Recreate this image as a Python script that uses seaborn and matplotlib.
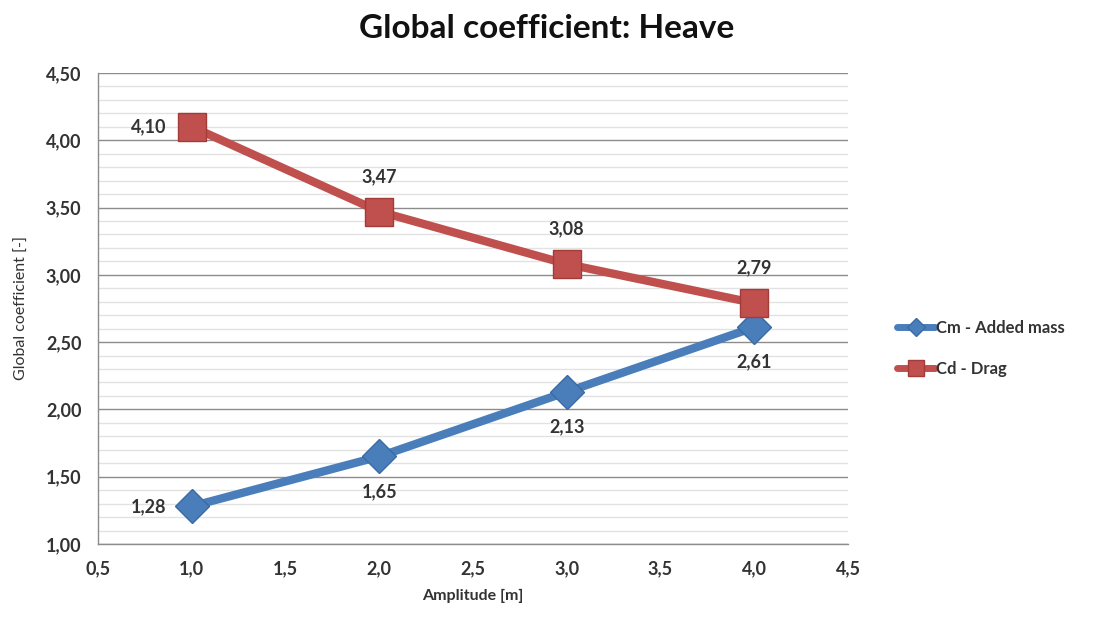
import matplotlib
matplotlib.use("Agg")
import matplotlib.pyplot as plt
from matplotlib.ticker import MultipleLocator, FuncFormatter
import seaborn as sns
import pandas as pd

amplitude = [1.0, 2.0, 3.0, 4.0]
cm_added_mass = [1.28, 1.65, 2.13, 2.61]
cd_drag = [4.10, 3.47, 3.08, 2.79]
series_names = ["Cm - Added mass", "Cd - Drag"]

sns.set_theme(style="white")
plt.rcParams["font.family"] = ["Lato", "DejaVu Sans"]

df = pd.DataFrame({
    "Amplitude": amplitude * 2,
    "Coefficient": cm_added_mass + cd_drag,
    "Series": [series_names[0]] * 4 + [series_names[1]] * 4,
})

fig = plt.figure(figsize=(10.98, 6.19), dpi=100)
ax = fig.add_axes([0.0893, 0.1212, 0.683, 0.761])

palette = {series_names[0]: "#4a7ebb", series_names[1]: "#c0504d"}
markers = {series_names[0]: "D", series_names[1]: "s"}
sizes = {series_names[0]: 17, series_names[1]: 20}
edges = {series_names[0]: "#3a6aa3", series_names[1]: "#a33b38"}

for name in series_names:
    sub = df[df["Series"] == name]
    sns.lineplot(data=sub, x="Amplitude", y="Coefficient", ax=ax,
                 color=palette[name], linewidth=6, marker=markers[name],
                 markersize=sizes[name], markeredgecolor=edges[name],
                 markeredgewidth=1, label=name, zorder=3)

ax.set_xlim(0.5, 4.5)
ax.set_ylim(1.0, 4.5)
ax.xaxis.set_major_locator(MultipleLocator(0.5))
ax.yaxis.set_major_locator(MultipleLocator(0.5))
ax.yaxis.set_minor_locator(MultipleLocator(0.1))
ax.xaxis.set_major_formatter(FuncFormatter(lambda v, p: f"{v:.1f}".replace(".", ",")))
ax.yaxis.set_major_formatter(FuncFormatter(lambda v, p: f"{v:.2f}".replace(".", ",")))

ax.grid(which="major", axis="y", color="#8c8c8c", linewidth=1.0, zorder=0)
ax.grid(which="minor", axis="y", color="#e2e2e2", linewidth=1.0, zorder=0)
ax.grid(axis="x", visible=False)
for s in ["top", "right"]:
    ax.spines[s].set_visible(False)
for s in ["left", "bottom"]:
    ax.spines[s].set_color("#8c8c8c")
    ax.spines[s].set_linewidth(1.0)
ax.tick_params(axis="both", which="major", direction="out", length=6, width=1,
               color="#8c8c8c", labelsize=13, labelcolor="#333333", pad=6)
ax.tick_params(axis="y", which="minor", length=0)
for lbl in ax.get_xticklabels() + ax.get_yticklabels():
    lbl.set_fontweight("bold")

ax.set_xlabel("Amplitude [m]", fontsize=11.5, fontweight="bold", color="#333333", labelpad=8)
ax.set_ylabel("Global coefficient [-]", fontsize=11.5, color="#333333", labelpad=12)
ax.set_title("Global coefficient: Heave", fontsize=24, fontweight="bold",
             color="#111111", pad=25, x=0.598)

def fmt(v):
    return f"{v:.2f}".replace(".", ",")

# value labels
label_kw = dict(textcoords="offset points", fontsize=13, fontweight="bold", color="#333333")
for i, (x, v) in enumerate(zip(amplitude, cm_added_mass)):
    if i == 0:
        ax.annotate(fmt(v), (x, v), xytext=(-18, 0), ha="right", va="center", **label_kw)
    else:
        ax.annotate(fmt(v), (x, v), xytext=(0, -19), ha="center", va="top", **label_kw)
for i, (x, v) in enumerate(zip(amplitude, cd_drag)):
    if i == 0:
        ax.annotate(fmt(v), (x, v), xytext=(-18, 0), ha="right", va="center", **label_kw)
    else:
        ax.annotate(fmt(v), (x, v), xytext=(0, 19), ha="center", va="bottom", **label_kw)

leg = ax.legend(loc="center left", bbox_to_anchor=(1.045, 0.415), frameon=False,
                fontsize=12, handlelength=2.3, handletextpad=0.05, labelspacing=1.5,
                markerscale=0.55)
for t in leg.get_texts():
    t.set_fontweight("bold")
    t.set_color("#333333")
for h in leg.legend_handles:
    h.set_linewidth(5)

fig.savefig("out.png", dpi=100)
